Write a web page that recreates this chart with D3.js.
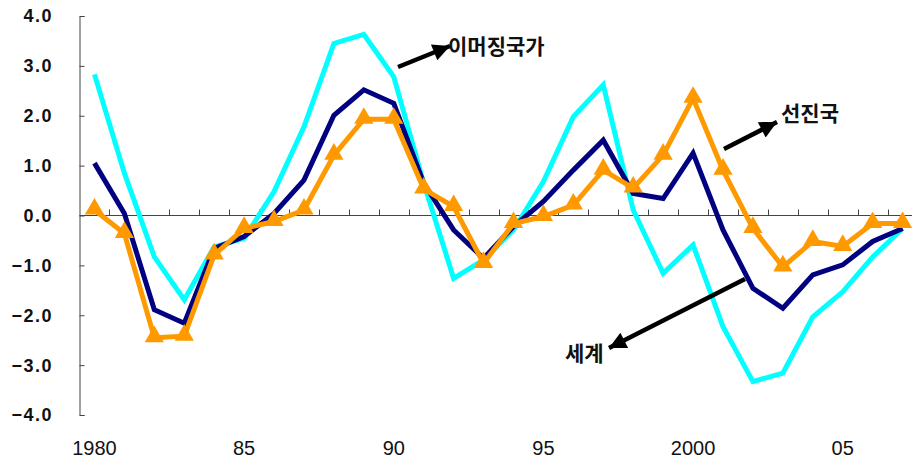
<!DOCTYPE html>
<html><head><meta charset="utf-8">
<script src="https://cdn.jsdelivr.net/npm/d3@7"></script>
<style>html,body{margin:0;padding:0;background:#fff;overflow:hidden}</style>
</head><body>
<svg id="c" width="912" height="459"></svg>
<script>
const years = d3.range(1980, 2008);
const yTicks = [4, 3, 2, 1, 0, -1, -2, -3, -4];
const xLabelMap = {1980: "1980", 1985: "85", 1990: "90", 1995: "95", 2000: "2000", 2005: "05"};
const emerging = [2.83, 0.85, -0.83, -1.69, -0.63, -0.46, 0.48, 1.78, 3.45, 3.63, 2.78, 0.65, -1.26, -0.89, -0.29, 0.68, 1.98, 2.62, 0.11, -1.16, -0.59, -2.23, -3.33, -3.16, -2.03, -1.53, -0.83, -0.26];
const world = [1.05, 0.04, -1.89, -2.16, -0.66, -0.42, 0.04, 0.71, 2.01, 2.52, 2.25, 0.65, -0.29, -0.86, -0.22, 0.28, 0.91, 1.51, 0.44, 0.34, 1.25, -0.29, -1.46, -1.86, -1.19, -0.99, -0.52, -0.26];
const advanced = [0.11, -0.36, -2.45, -2.42, -0.79, -0.26, -0.12, 0.11, 1.21, 1.93, 1.93, 0.53, 0.18, -0.96, -0.16, -0.02, 0.21, 0.91, 0.55, 1.21, 2.35, 0.91, -0.26, -1.03, -0.52, -0.62, -0.16, -0.16];
const labels = [
  {text: "이머징국가", from: [398, 67], to: [450, 46], tx: 448, ty: 54},
  {text: "선진국", from: [724, 149], to: [777, 122], tx: 781, ty: 121},
  {text: "세계", from: [745, 279], to: [609, 348], tx: 565, ty: 361}
];

const svg = d3.select("#c");
const x = d3.scaleBand().domain(years).range([79.5, 79.5 + 28 * 29.93]);
const y = d3.scaleLinear().domain([-4, 4]).range([415, 16]);
const cx = d => x(d) + x.bandwidth() / 2;

// y axis
const gy = svg.append("g").attr("transform", "translate(79.5,0)")
  .call(d3.axisRight(y).tickValues(yTicks).tickSize(5).tickFormat(""));
gy.select(".domain").attr("stroke", "#444").attr("d", "M5,16.5H0.5V415.5H5");
gy.selectAll("line").attr("stroke", "#444");
svg.append("g").selectAll("text").data(yTicks).join("text")
  .attr("x", 53).attr("y", d => y(d)).attr("dy", "0.36em")
  .attr("text-anchor", "end")
  .attr("font-family", "Liberation Sans, Arial, sans-serif")
  .attr("font-weight", "bold").attr("font-size", 18).attr("letter-spacing", 1.5)
  .attr("fill", "#111")
  .text(d => (d < 0 ? "\u2212" : "") + Math.abs(d).toFixed(1));

// x axis at zero
const gx = svg.append("g").attr("transform", `translate(0,${y(0)})`);
gx.append("line").attr("x1", 79.5).attr("x2", 912).attr("stroke", "#444");
gx.selectAll("line.t").data(years.slice(1).concat([2008])).join("line").attr("class", "t")
  .attr("x1", d => Math.round(x.range()[0] + (d - 1980) * x.step()) + 0.5)
  .attr("x2", d => Math.round(x.range()[0] + (d - 1980) * x.step()) + 0.5)
  .attr("y1", 0).attr("y2", -6).attr("stroke", "#444");

svg.append("g").selectAll("text").data(Object.keys(xLabelMap).map(Number)).join("text")
  .attr("x", d => cx(d)).attr("y", 455).attr("text-anchor", "middle")
  .attr("font-family", "Liberation Sans, Arial, sans-serif")
  .attr("font-size", 20).attr("fill", "#111")
  .text(d => xLabelMap[d]);

const line = d3.line().x((d, i) => cx(years[i])).y(d => y(d));
function drawSeries(data, color) {
  svg.append("path").datum(data).attr("d", line).attr("fill", "none")
    .attr("stroke", color).attr("stroke-width", 5).attr("stroke-linejoin", "miter");
}
drawSeries(emerging, "#00FFFF");
drawSeries(world, "#000080");
drawSeries(advanced, "#FF9900");
const tri = d3.symbol().type(d3.symbolTriangle).size(160);
svg.append("g").selectAll("path").data(advanced).join("path")
  .attr("d", tri).attr("fill", "#FF9900")
  .attr("transform", (d, i) => `translate(${cx(years[i])},${y(d) - 1})`);

// annotations
svg.append("defs").append("marker").attr("id", "ah")
  .attr("viewBox", "0 0 10 10").attr("refX", 10).attr("refY", 5)
  .attr("markerWidth", 4.5).attr("markerHeight", 3.8).attr("orient", "auto")
  .attr("markerUnits", "strokeWidth")
  .append("path").attr("d", "M0,0L10,5L0,10Z").attr("fill", "#000");
labels.forEach(l => {
  svg.append("line").attr("x1", l.from[0]).attr("y1", l.from[1])
    .attr("x2", l.to[0]).attr("y2", l.to[1])
    .attr("stroke", "#000").attr("stroke-width", 4.5).attr("marker-end", "url(#ah)");
  svg.append("text").attr("x", l.tx).attr("y", l.ty)
    .attr("font-family", "Noto Sans CJK KR, sans-serif").attr("font-weight", "bold")
    .attr("font-size", 21).attr("fill", "#111").text(l.text);
});
</script>
</body></html>
